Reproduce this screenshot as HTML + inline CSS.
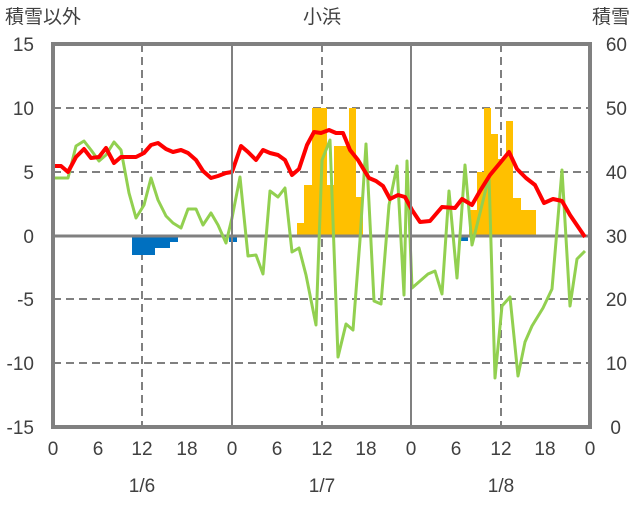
<!DOCTYPE html><html><head><meta charset="utf-8"><style>body{margin:0;background:#fff}svg text{font-family:"Liberation Sans","Noto Sans CJK JP",sans-serif;fill:#404040;font-size:19px}</style></head><body>
<svg width="636" height="501" viewBox="0 0 636 501" xmlns="http://www.w3.org/2000/svg">
<g stroke="#808080" stroke-width="2" stroke-dasharray="8,5">
<line x1="53" y1="108" x2="590" y2="108"/><line x1="53" y1="172" x2="590" y2="172"/><line x1="53" y1="299" x2="590" y2="299"/><line x1="53" y1="363" x2="590" y2="363"/>
<line x1="142" y1="44" x2="142" y2="427"/><line x1="322" y1="44" x2="322" y2="427"/><line x1="501" y1="44" x2="501" y2="427"/>
</g>
<g fill="#FFC000">
<rect x="297" y="223" width="7" height="13"/><rect x="304" y="185" width="8" height="51"/><rect x="312" y="108" width="15" height="128"/><rect x="327" y="185" width="7" height="51"/><rect x="334" y="146" width="15" height="90"/><rect x="349" y="108" width="7" height="128"/><rect x="356" y="197" width="7" height="39"/>
<rect x="469" y="210" width="8" height="26"/><rect x="477" y="172" width="7" height="64"/><rect x="484" y="108" width="7" height="128"/><rect x="491" y="134" width="7" height="102"/><rect x="498" y="159" width="8" height="77"/><rect x="506" y="121" width="7" height="115"/><rect x="513" y="198" width="8" height="38"/><rect x="521" y="210" width="15" height="26"/>
</g>
<g fill="#0070C0">
<rect x="132" y="236" width="23" height="19"/><rect x="155" y="236" width="15" height="12"/><rect x="170" y="236" width="8" height="6"/><rect x="229" y="236" width="8" height="6"/><rect x="461" y="236" width="7" height="5"/>
</g>
<line x1="53" y1="236" x2="590" y2="236" stroke="#808080" stroke-width="3"/>
<polyline fill="none" stroke="#92D050" stroke-width="3" stroke-linejoin="round" points="53,178 68,178 76,146 84,141 91,150 99,161 106,155 114,142 121,150 129,193 136,218 144,205 151,178 158,200 166,216 173,223 181,228 188,209 196,209 203,225 211,213 218,225 226,243 232,218 240,177 248,256 256,255 263,274 270,191 278,197 285,188 292,252 299,248 306,275 316,325 322,160 330,140 338,357 346,324 353,330 360,240 366,144 374,301 381,304 389,205 397,166 404,295 407,161 412,288 420,281 428,274 435,271 442,294 449,191 457,278 465,165 472,245 480,213 489,176 495,378 502,306 510,297 518,376 525,342 532,326 543,308 552,289 562,170 570,306 577,259 585,251"/>
<polyline fill="none" stroke="#FF0000" stroke-width="4" stroke-linejoin="round" points="53,166 61,166 68,172 76,157 84,149 91,158 99,157 106,148 114,163 121,157 129,157 136,157 144,153 151,145 158,143 166,149 173,152 181,150 188,153 196,160 203,171 211,178 218,176 226,173 232,172 241,146 248,152 256,160 263,150 270,153 278,155 285,160 292,175 299,169 307,145 314,132 321,133 329,130 336,133 343,133 350,150 358,160 364,170 369,178 376,181 383,186 390,199 398,195 405,197 412,210 420,222 430,221 442,207 455,208 462,199 472,205 480,191 490,175 500,163 509,152 517,169 526,178 535,185 544,203 553,199 562,201 570,215 585,237"/>
<line x1="53" y1="427" x2="590" y2="427" stroke="#7030A0" stroke-width="3"/>
<rect x="53" y="44" width="537" height="383" fill="none" stroke="#808080" stroke-width="4"/>
<line x1="232" y1="44" x2="232" y2="427" stroke="#808080" stroke-width="2"/>
<line x1="411" y1="44" x2="411" y2="427" stroke="#808080" stroke-width="2"/>
<text x="5" y="23">積雪以外</text><text x="322" y="23" text-anchor="middle">小浜</text><text x="630" y="23" text-anchor="end">積雪</text>
<g text-anchor="end"><text x="34" y="51">15</text><text x="34" y="115">10</text><text x="34" y="179">5</text><text x="34" y="243">0</text><text x="34" y="306">-5</text><text x="34" y="370">-10</text><text x="34" y="434">-15</text></g>
<g text-anchor="end"><text x="627" y="51">60</text><text x="627" y="115">50</text><text x="627" y="179">40</text><text x="627" y="243">30</text><text x="627" y="306">20</text><text x="627" y="370">10</text><text x="621" y="434">0</text></g>
<g text-anchor="middle"><text x="53" y="455">0</text><text x="98" y="455">6</text><text x="142" y="455">12</text><text x="187" y="455">18</text><text x="232" y="455">0</text><text x="277" y="455">6</text><text x="322" y="455">12</text><text x="366" y="455">18</text><text x="411" y="455">0</text><text x="456" y="455">6</text><text x="501" y="455">12</text><text x="545" y="455">18</text><text x="590" y="455">0</text>
<text x="142" y="492">1/6</text><text x="322" y="492">1/7</text><text x="501" y="492">1/8</text></g>
</svg></body></html>
